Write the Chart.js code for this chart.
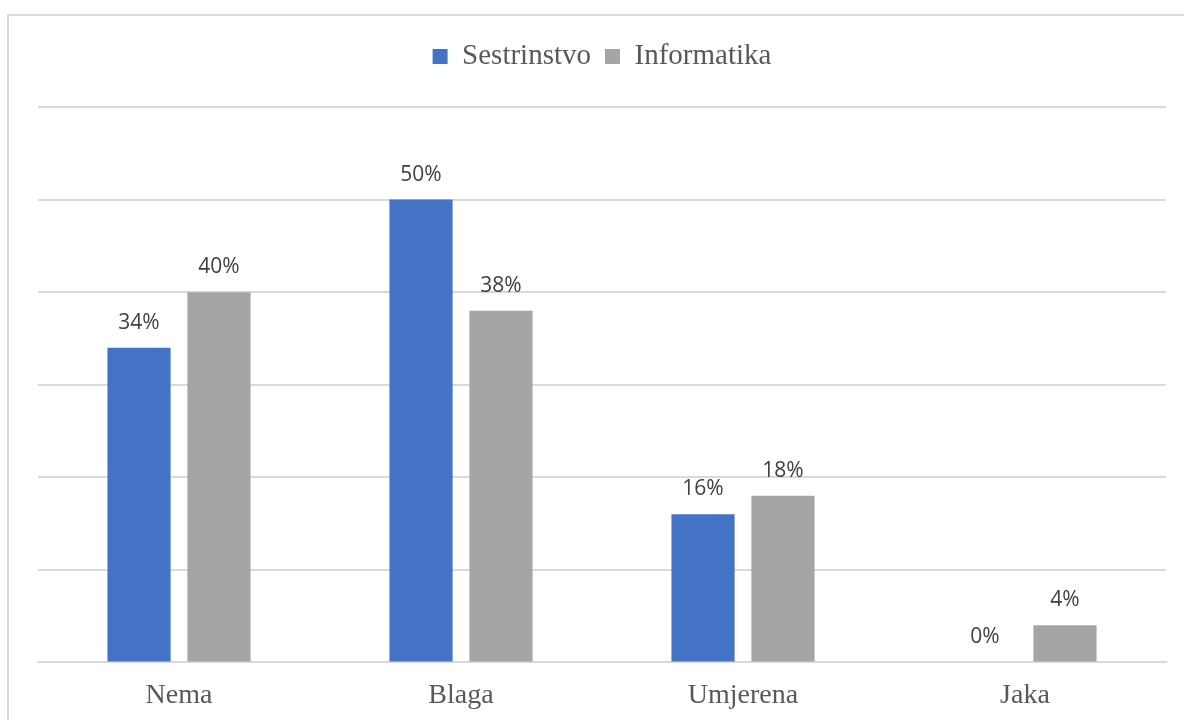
<!DOCTYPE html>
<html>
<head>
<meta charset="utf-8">
<script src="https://cdn.jsdelivr.net/npm/chart.js@4.4.0/dist/chart.umd.min.js"></script>
<style>
  body { margin: 0; background: #fff; }
  #okvir { position: absolute; left: 7px; top: 14px; width: 1190px; height: 720px; border: 2px solid #d9d9d9; box-sizing: border-box; }
  #wrap { position: absolute; left: 0; top: 0; width: 1184px; height: 720px; }
</style>
</head>
<body>
<div id="okvir"></div>
<div id="wrap"><canvas id="chart"></canvas></div>
<script>
var kategorije = ['Nema', 'Blaga', 'Umjerena', 'Jaka'];
var sestrinstvo = [34, 50, 16, 0];
var informatika = [40, 38, 18, 4];
var yMax = 60;
var yKorak = 10;

// ispisuje postotke iznad stupaca
var oznake = {
    id: 'oznake',
    afterDatasetsDraw: function (chart) {
        var ctx = chart.ctx;
        ctx.save();
        ctx.font = '21px "Open Sans", sans-serif';
        ctx.fillStyle = '#404040';
        ctx.textAlign = 'center';
        ctx.textBaseline = 'middle';
        chart.data.datasets.forEach(function (ds, i) {
            chart.getDatasetMeta(i).data.forEach(function (bar, j) {
                ctx.fillText(ds.data[j] + '%', bar.x, bar.y - 25);
            });
        });
        ctx.restore();
    }
};

// vise mjesta ispod legende
var razmakLegende = {
    id: 'razmakLegende',
    beforeInit: function (chart) {
        var staraFit = chart.legend.fit;
        chart.legend.fit = function () {
            staraFit.bind(chart.legend)();
            this.height += 26;
        };
    }
};

var ctx = document.getElementById('chart');
var chart = new Chart(ctx, {
    type: 'bar',
    data: {
        labels: kategorije,
        datasets: [{
            label: 'Sestrinstvo',
            data: sestrinstvo,
            backgroundColor: '#4472C4'
        }, {
            label: 'Informatika',
            data: informatika,
            backgroundColor: '#A5A5A5'
        }]
    },
    plugins: [oznake, razmakLegende],
    options: {
        responsive: true,
        maintainAspectRatio: false,
        animation: false,
        layout: { padding: { left: 38, right: 18, top: 28, bottom: 0 } },
        categoryPercentage: 0.567,
        barPercentage: 0.79,
        plugins: {
            tooltip: { enabled: false },
            legend: {
                position: 'top',
                labels: {
                    font: { family: '"Liberation Serif", serif', size: 29 },
                    color: '#595959',
                    boxWidth: 15,
                    boxHeight: 15,
                    padding: 14
                }
            }
        },
        scales: {
            x: {
                grid: { display: false },
                border: { display: true, color: '#d9d9d9', width: 2 },
                ticks: {
                    font: { family: '"Liberation Serif", serif', size: 28 },
                    color: '#595959',
                    padding: 8
                }
            },
            y: {
                min: 0,
                max: yMax,
                ticks: { display: false, stepSize: yKorak },
                grid: { color: '#d9d9d9', lineWidth: 2, drawTicks: false },
                border: { display: false }
            }
        }
    }
});
</script>
</body>
</html>
